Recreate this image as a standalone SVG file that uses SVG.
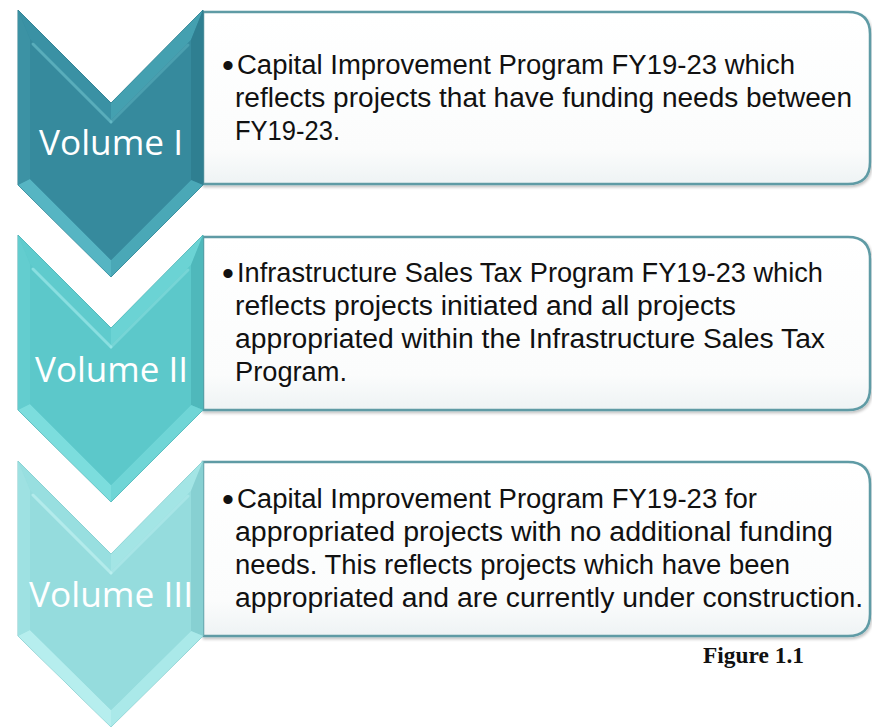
<svg xmlns="http://www.w3.org/2000/svg" width="872" height="727" viewBox="0 0 872 727">
<style>
.box{stroke:#5f9ba5;stroke-width:2.5}
.t{font-family:"Liberation Sans",Arial,sans-serif;font-size:27px;fill:#111}
.b{font-family:"Liberation Sans",Arial,sans-serif;font-size:34px;fill:#111}
.v{font-family:"Open Sans","Noto Sans","Liberation Sans",sans-serif;font-size:35px;fill:#ffffff}
.hl{fill:none;stroke-width:3;stroke-linecap:round}
</style>
<defs>
<linearGradient id="bg" x1="0" y1="0" x2="0" y2="1">
<stop offset="0" stop-color="#ffffff"/>
<stop offset="0.8" stop-color="#fbfcfc"/>
<stop offset="1" stop-color="#eef3f4"/>
</linearGradient>
<filter id="sh" x="-5%" y="-5%" width="110%" height="115%">
<feGaussianBlur in="SourceAlpha" stdDeviation="1.5"/>
<feOffset dx="1" dy="2"/>
<feComponentTransfer><feFuncA type="linear" slope="0.25"/></feComponentTransfer>
<feMerge><feMergeNode/><feMergeNode in="SourceGraphic"/></feMerge>
</filter>
</defs>

<g id="box1">
<path class="box" fill="url(#bg)" filter="url(#sh)" d="M203,12 H848 Q870,12 870,34 V162 Q870,184 848,184 H203 Z"/>
<text class="b" x="222" y="77">•</text>
<text class="t" x="237" y="74" textLength="558" lengthAdjust="spacingAndGlyphs">Capital Improvement Program FY19-23 which</text>
<text class="t" x="235" y="107" textLength="617" lengthAdjust="spacingAndGlyphs">reflects projects that have funding needs between</text>
<text class="t" x="235" y="140" textLength="105" lengthAdjust="spacingAndGlyphs">FY19-23.</text>
</g>

<g id="box2">
<path class="box" fill="url(#bg)" filter="url(#sh)" d="M203,237 H848 Q870,237 870,259 V388 Q870,410 848,410 H203 Z"/>
<text class="b" x="222" y="285">•</text>
<text class="t" x="237" y="282" textLength="586" lengthAdjust="spacingAndGlyphs">Infrastructure Sales Tax Program FY19-23 which</text>
<text class="t" x="235" y="315" textLength="501" lengthAdjust="spacingAndGlyphs">reflects projects initiated and all projects</text>
<text class="t" x="235" y="348" textLength="590" lengthAdjust="spacingAndGlyphs">appropriated within the Infrastructure Sales Tax</text>
<text class="t" x="235" y="381" textLength="112" lengthAdjust="spacingAndGlyphs">Program.</text>
</g>

<g id="box3">
<path class="box" fill="url(#bg)" filter="url(#sh)" d="M203,462 H848 Q870,462 870,484 V614 Q870,636 848,636 H203 Z"/>
<text class="b" x="222" y="511">•</text>
<text class="t" x="237" y="508" textLength="520" lengthAdjust="spacingAndGlyphs">Capital Improvement Program FY19-23 for</text>
<text class="t" x="235" y="541" textLength="598" lengthAdjust="spacingAndGlyphs">appropriated projects with no additional funding</text>
<text class="t" x="235" y="574" textLength="555" lengthAdjust="spacingAndGlyphs">needs. This reflects projects which have been</text>
<text class="t" x="235" y="607" textLength="628" lengthAdjust="spacingAndGlyphs">appropriated and are currently under construction.</text>
</g>

<g id="vol1">
<polygon fill="#368a9d" stroke="#2f7a8b" stroke-width="1" points="18,10 111,103 203,10 203,185 111,277 18,185"/>
<polygon fill="#3a91a4" points="18,10 111,103 111,120 30,39"/>
<polygon fill="#44a0b0" points="111,103 203,10 191,40 111,120"/>
<polygon fill="#3c92a4" points="18,10 30,39 30,179 18,185"/>
<polygon fill="#2f7f91" points="203,10 203,185 191,180 191,40"/>
<polygon fill="#56b5c3" points="18,185 30,179 111,260 111,277"/>
<polygon fill="#4aa8b7" points="111,277 111,260 191,180 203,185"/>
<polygon fill="#368a9d" points="30,39 111,120 191,40 191,180 111,260 30,179"/>
<polyline class="hl" stroke="#7cd0da" stroke-opacity="0.5" points="33,44 111,122"/>
<polyline class="hl" stroke="#7cd0da" stroke-opacity="0.3" points="111,122 188,45"/>
<text class="v" x="39" y="155" textLength="144" lengthAdjust="spacingAndGlyphs">Volume I</text>
</g>

<g id="vol2">
<polygon fill="#5cc8ca" stroke="#4aa9ad" stroke-width="1" points="18,235 111,328 203,235 203,410 111,502 18,410"/>
<polygon fill="#5fcbcd" points="18,235 111,328 111,345 30,264"/>
<polygon fill="#6bd3d4" points="111,328 203,235 191,265 111,345"/>
<polygon fill="#63cdcf" points="18,235 30,264 30,404 18,410"/>
<polygon fill="#4fb8bb" points="203,235 203,410 191,405 191,265"/>
<polygon fill="#7cdddd" points="18,410 30,404 111,485 111,502"/>
<polygon fill="#6fd5d6" points="111,502 111,485 191,405 203,410"/>
<polygon fill="#5cc8ca" points="30,264 111,345 191,265 191,405 111,485 30,404"/>
<polyline class="hl" stroke="#a6eeee" stroke-opacity="0.6" points="33,269 111,347"/>
<polyline class="hl" stroke="#a6eeee" stroke-opacity="0.35" points="111,347 188,270"/>
<text class="v" x="35" y="382" textLength="153" lengthAdjust="spacingAndGlyphs">Volume II</text>
</g>

<g id="vol3">
<polygon fill="#95dcdd" stroke="#7fc6c8" stroke-width="1" points="18,461 111,554 203,461 203,636 111,727 18,636"/>
<polygon fill="#98dfe0" points="18,461 111,554 111,571 30,490"/>
<polygon fill="#a3e5e5" points="111,554 203,461 191,491 111,571"/>
<polygon fill="#9ee1e2" points="18,461 30,490 30,630 18,636"/>
<polygon fill="#87d0d2" points="203,461 203,636 191,631 191,491"/>
<polygon fill="#b6eeee" points="18,636 30,630 111,710 111,727"/>
<polygon fill="#aae9e9" points="111,727 111,710 191,631 203,636"/>
<polygon fill="#95dcdd" points="30,490 111,571 191,491 191,631 111,710 30,630"/>
<polyline class="hl" stroke="#c8f5f5" stroke-opacity="0.6" points="33,495 111,573"/>
<polyline class="hl" stroke="#c8f5f5" stroke-opacity="0.35" points="111,573 188,496"/>
<text class="v" x="29" y="607" textLength="164" lengthAdjust="spacingAndGlyphs">Volume III</text>
</g>

<g id="caption">
<text x="703" y="663" font-family="'Liberation Serif','Times New Roman',serif" font-weight="bold" font-size="23" fill="#111" textLength="101" lengthAdjust="spacingAndGlyphs">Figure 1.1</text>
</g>
</svg>
